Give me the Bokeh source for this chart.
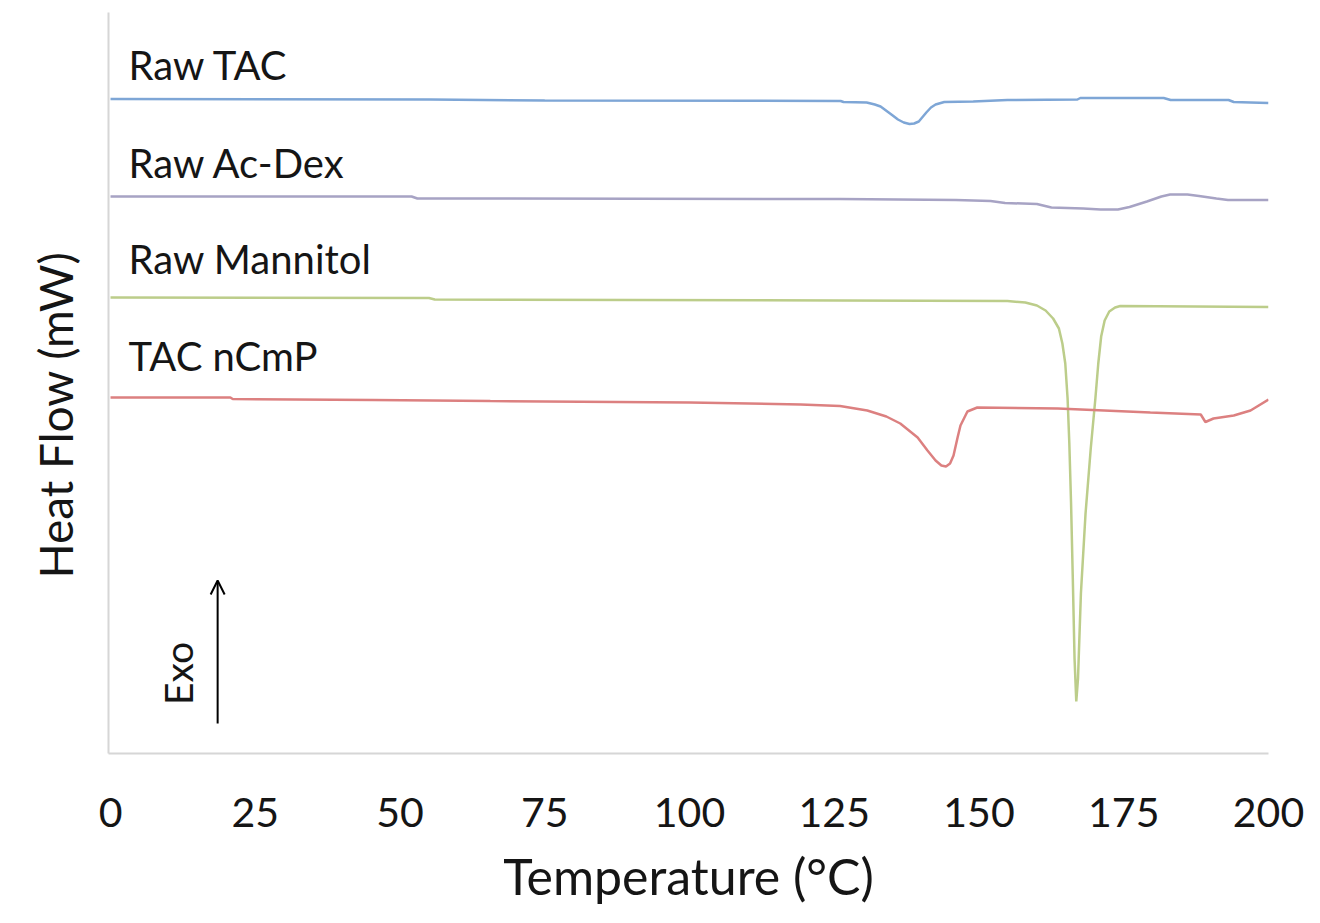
from bokeh.plotting import figure
from bokeh.models import Range1d, Label, Arrow, OpenHead, FixedTicker, Title
from bokeh.embed import file_html
from bokeh.resources import INLINE

# ---- data (temperature in °C, heat flow in arbitrary stacked mW) ----
tac_T = [0, 55.3, 75, 126.1, 126.6, 130.6, 132, 133, 135.1, 136, 137, 138, 138.8, 139.6, 140.9,
         141.7, 142.5, 144, 149, 154.9, 167, 167.5, 181.9, 183.1, 193.1, 194, 196.9, 200]
tac_hf = [6.545, 6.54, 6.53, 6.525, 6.515, 6.51, 6.49, 6.47, 6.38, 6.34, 6.31, 6.295, 6.30, 6.32, 6.41,
          6.46, 6.49, 6.515, 6.52, 6.535, 6.54, 6.555, 6.555, 6.535, 6.535, 6.515, 6.51, 6.505]

acdex_T = [0, 52, 53, 126, 146, 152, 154.5, 160, 162.5, 168, 171, 174, 176, 179, 181.5, 183, 186,
           188, 191, 193, 200]
acdex_hf = [5.57, 5.57, 5.55, 5.545, 5.535, 5.525, 5.505, 5.495, 5.46, 5.45, 5.44, 5.44, 5.465, 5.52,
            5.57, 5.59, 5.59, 5.575, 5.55, 5.535, 5.535]

mannitol_T = [0, 55, 56, 126, 154.9, 158.0, 160.0, 161.5, 162.8, 163.8, 164.4, 164.9, 165.3, 165.6,
              165.9, 166.2, 166.5, 166.8, 167.1, 167.6, 168.4, 169.3, 170.1, 170.6, 171.1, 171.7,
              172.5, 173.5, 174.4, 200]
mannitol_hf = [4.56, 4.555, 4.54, 4.53, 4.525, 4.51, 4.48, 4.43, 4.35, 4.25, 4.10, 3.90, 3.55, 3.10,
               2.50, 1.75, 0.95, 0.52, 0.75, 1.60, 2.40, 3.05, 3.55, 3.90, 4.17, 4.33,
               4.42, 4.46, 4.475, 4.465]

ncmp_T = [0, 20.7, 21.1, 45.4, 65.6, 100, 119.2, 126, 130.7, 134, 136.4, 139.4, 141.1, 142.5, 143.5,
          144.3, 145, 145.6, 146.3, 146.8, 148, 149.7, 163.6, 179.6, 188.3, 189.1, 190.5, 194, 196.9, 200]
ncmp_hf = [3.56, 3.56, 3.545, 3.535, 3.525, 3.51, 3.49, 3.475, 3.43, 3.37, 3.30, 3.16, 3.03, 2.93, 2.88,
           2.87, 2.90, 2.98, 3.16, 3.28, 3.42, 3.46, 3.45, 3.41, 3.39, 3.315, 3.35, 3.38, 3.43, 3.54]

series_names = ["Raw TAC", "Raw Ac-Dex", "Raw Mannitol", "TAC nCmP"]
series_colors = ["#7EA6D6", "#A7A3C4", "#BCCD8A", "#DC8080"]
label_hf = [6.89, 5.91, 4.95, 3.98]
x_ticks = [0, 25, 50, 75, 100, 125, 150, 175, 200]

FONT = "Lato"
TXT = "#151515"

p = figure(width=1312, height=915, x_range=Range1d(-0.35, 200), y_range=Range1d(0, 7.41),
           output_backend="svg", toolbar_location=None,
           min_border_left=108, min_border_right=44, min_border_top=12, min_border_bottom=162)
p.outline_line_color = None
p.grid.visible = False
p.background_fill_color = "white"

p.xaxis.ticker = FixedTicker(ticks=x_ticks)
p.xaxis.major_tick_line_color = None
p.xaxis.minor_tick_line_color = None
p.xaxis.axis_line_color = "#D6D6D6"
p.xaxis.axis_line_width = 2
p.xaxis.major_label_text_font = FONT
p.xaxis.major_label_text_font_size = "41px"
p.xaxis.major_label_text_color = TXT
p.xaxis.major_label_standoff = 38
p.xaxis.axis_label = "Temperature (°C)"
p.xaxis.axis_label_text_font = FONT
p.xaxis.axis_label_text_font_size = "50px"
p.xaxis.axis_label_text_font_style = "normal"
p.xaxis.axis_label_text_color = TXT
p.xaxis.axis_label_standoff = 16

p.yaxis.ticker = FixedTicker(ticks=[])
p.yaxis.major_tick_line_color = None
p.yaxis.minor_tick_line_color = None
p.yaxis.axis_line_color = "#D6D6D6"
p.yaxis.axis_line_width = 2

# y-axis title placed as a left-side title so it can sit a little below the frame centre, as in the figure
p.add_layout(Title(text="Heat Flow (mW)", align="left", offset=175, standoff=48,
                   vertical_align="top",
                   text_font=FONT, text_font_size="46px", text_font_style="normal",
                   text_color=TXT), "left")

for T, hf, c in [(tac_T, tac_hf, series_colors[0]), (acdex_T, acdex_hf, series_colors[1]),
                 (mannitol_T, mannitol_hf, series_colors[2]), (ncmp_T, ncmp_hf, series_colors[3])]:
    p.line(T, hf, line_color=c, line_width=2.5)

for name, yv in zip(series_names, label_hf):
    p.add_layout(Label(x=3.1, y=yv, text=name, text_font=FONT, text_font_size="40px",
                       text_color=TXT, text_baseline="middle", text_align="left"))

p.add_layout(Label(x=11.7, y=0.80, text="Exo", angle=1.5708, text_font=FONT,
                   text_font_size="39px", text_color=TXT, text_align="center", text_baseline="middle"))
p.add_layout(Arrow(end=OpenHead(size=14, line_width=2, line_color="black"),
                   x_start=18.5, y_start=0.30, x_end=18.5, y_end=1.73,
                   line_width=2, line_color="black"))

open("out.html", "w").write(file_html(p, INLINE))
